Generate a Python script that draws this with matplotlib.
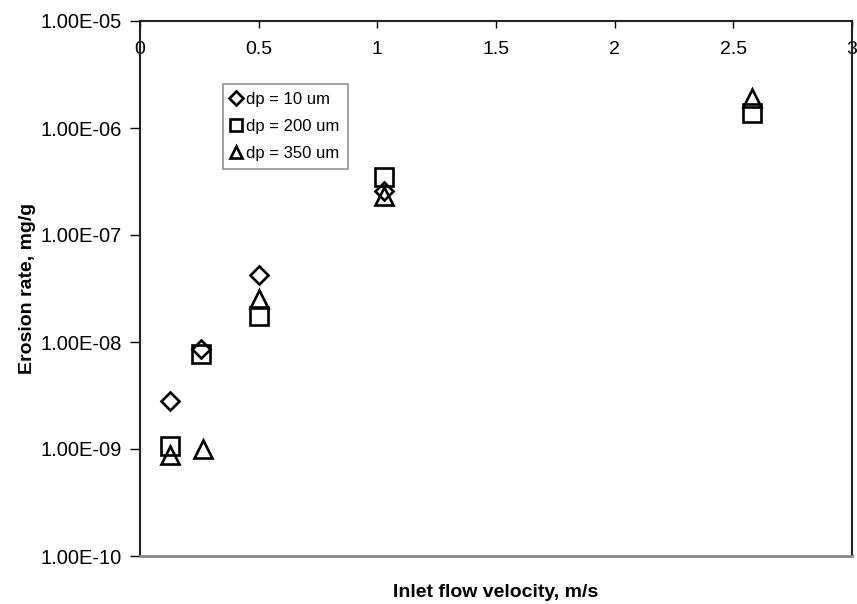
import matplotlib
matplotlib.use("Agg")
import matplotlib.pyplot as plt
from matplotlib.ticker import NullLocator, FixedLocator

plt.rcParams['font.family'] = ['Liberation Sans', 'DejaVu Sans']

# Data
x_dp10 = [0.125, 0.255, 0.50, 1.03]
y_dp10 = [2.8e-9, 8.6e-9, 4.2e-8, 2.6e-7]

x_dp200 = [0.125, 0.255, 0.50, 1.03, 2.58]
y_dp200 = [1.07e-9, 7.7e-9, 1.75e-8, 3.5e-7, 1.38e-6]

x_dp350 = [0.125, 0.265, 0.50, 1.03, 2.58]
y_dp350 = [0.87e-9, 1.0e-9, 2.5e-8, 2.3e-7, 1.9e-6]

labels = ["dp = 10 um", "dp = 200 um", "dp = 350 um"]
x_ticks = [0, 0.5, 1, 1.5, 2, 2.5, 3]
x_tick_labels = ["0", "0.5", "1", "1.5", "2", "2.5", "3"]
y_ticks = [1e-10, 1e-9, 1e-8, 1e-7, 1e-6, 1e-5]
y_tick_labels = ["1.00E-10", "1.00E-09", "1.00E-08", "1.00E-07", "1.00E-06", "1.00E-05"]

fig = plt.figure(figsize=(8.57, 6.04), dpi=100)
ax = fig.add_axes([140/857, 1-556/604, (852-140)/857, (556-21)/604])

mk = dict(linestyle='none', markerfacecolor='none', markeredgecolor='black', markeredgewidth=1.9)
ax.plot(x_dp10, y_dp10, marker='D', markersize=9.5, label=labels[0], **mk)
ax.plot(x_dp200, y_dp200, marker='s', markersize=12.5, label=labels[1], **mk)
ax.plot(x_dp350, y_dp350, marker='^', markersize=13, label=labels[2], **mk)

ax.set_yscale('log')
ax.set_ylim(1e-10, 1e-5)
ax.set_xlim(0, 3)
ax.yaxis.set_major_locator(FixedLocator(y_ticks))
ax.yaxis.set_minor_locator(NullLocator())
ax.set_yticklabels(y_tick_labels)
ax.set_xticks(x_ticks)
ax.set_xticklabels(x_tick_labels)

ax.xaxis.set_ticks_position('top')
ax.tick_params(axis='x', direction='in', length=5, width=1, colors='black',
               labelsize=14, pad=-27, labeltop=True, labelbottom=False)
ax.tick_params(axis='y', direction='out', length=7, width=1, labelsize=14.5, pad=6)

for s in ['top', 'left', 'right']:
    ax.spines[s].set_color('#222222')
    ax.spines[s].set_linewidth(1.5)
ax.spines['bottom'].set_color('#888888')
ax.spines['bottom'].set_linewidth(2)

ax.xaxis.set_label_position('bottom')
ax.set_xlabel("Inlet flow velocity, m/s", fontsize=14, fontweight='bold', labelpad=20)
ax.set_ylabel("Erosion rate, mg/g", fontsize=14, fontweight='bold', labelpad=3)

leg = ax.legend(loc='upper left', bbox_to_anchor=((223-140)/712, (556-84)/535),
                borderaxespad=0, fontsize=12, frameon=True, fancybox=False,
                edgecolor='#777777', markerscale=0.7, handlelength=0.6,
                handletextpad=0.3, labelspacing=0.7, borderpad=0.5)
leg.get_frame().set_linewidth(1.2)

fig.savefig("out.png", dpi=100)
